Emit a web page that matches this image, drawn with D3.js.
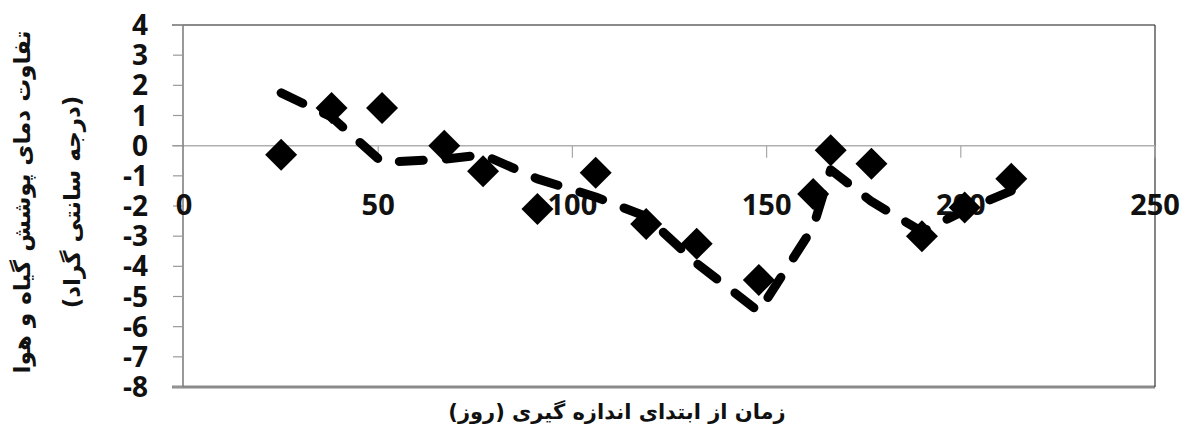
<!DOCTYPE html>
<html lang="fa">
<head>
  <meta charset="UTF-8">
  <title>Canopy-air temperature difference</title>
  <script src="https://d3js.org/d3.v7.min.js"></script>
  <style>
    body { margin: 0; background: #fff; }
    .tick-label { font-family: "Open Sans", "Liberation Sans", sans-serif; font-weight: 700; fill: #111; }
    .title { font-family: "DejaVu Sans", sans-serif; font-weight: 700; fill: #111; }
  </style>
</head>
<body>
  <svg id="chart" width="1187" height="434"></svg>
  <script>
    // days since start of measurement
    const days = [25, 38, 51, 67, 77, 91, 106, 119, 132, 148, 162, 166.5, 177, 190, 201, 213];
    // measured canopy-air temperature difference
    const measured = [-0.3, 1.25, 1.25, 0, -0.85, -2.1, -0.9, -2.6, -3.25, -4.45, -1.6, -0.15, -0.6, -3.0, -2.05, -1.1];
    // dashed series
    const modeled = [1.75, 0.95, -0.55, -0.45, -0.3, -1.1, -1.7, -2.35, -3.9, -5.5, -2.7, -0.8, -1.85, -2.85, -2.15, -1.5];

    const xTicks = [0, 50, 100, 150, 200, 250];
    const yTicks = [4, 3, 2, 1, 0, -1, -2, -3, -4, -5, -6, -7, -8];

    const yTitle1 = "تفاوت دمای پوشش گیاه و هوا";
    const yTitle2 = "(درجه سانتی گراد)";
    const xTitle = "زمان از ابتدای اندازه گیری (روز)";

    const svg = d3.select("#chart");

    const x = d3.scaleLinear().domain([0, 250]).range([184, 1155]);
    const y = d3.scaleLinear().domain([-8, 4]).range([387, 25]);
    const yMid = (y(4) + y(-8)) / 2 - 4;

    // frame: top line, bottom line, right border
    svg.append("line")
      .attr("x1", 172).attr("x2", x(250))
      .attr("y1", y(4)).attr("y2", y(4))
      .attr("stroke", "#8a8a8a").attr("stroke-width", 2);
    svg.append("line")
      .attr("x1", 172).attr("x2", x(250))
      .attr("y1", y(-8)).attr("y2", y(-8))
      .attr("stroke", "#8a8a8a").attr("stroke-width", 3);
    svg.append("line")
      .attr("x1", x(250)).attr("x2", x(250))
      .attr("y1", y(4)).attr("y2", y(-8))
      .attr("stroke", "#333").attr("stroke-width", 1.2);

    // zero line with x ticks
    svg.append("line")
      .attr("x1", 172).attr("x2", x(250))
      .attr("y1", y(0)).attr("y2", y(0))
      .attr("stroke", "#b0b0b0").attr("stroke-width", 1.5);

    svg.append("g")
      .selectAll("line")
      .data(xTicks.slice(1))
      .join("line")
      .attr("x1", d => x(d)).attr("x2", d => x(d))
      .attr("y1", y(0)).attr("y2", y(0) + 12)
      .attr("stroke", "#a8a8a8").attr("stroke-width", 1.2);

    // y axis
    svg.append("line")
      .attr("x1", 183).attr("x2", 183)
      .attr("y1", y(4)).attr("y2", y(-8))
      .attr("stroke", "#777").attr("stroke-width", 1.5);

    svg.append("g")
      .selectAll("line")
      .data(yTicks)
      .join("line")
      .attr("x1", 173).attr("x2", 183)
      .attr("y1", d => y(d)).attr("y2", d => y(d))
      .attr("stroke", "#999").attr("stroke-width", 1.2);

    svg.append("g")
      .selectAll("text")
      .data(yTicks)
      .join("text")
      .attr("class", "tick-label")
      .attr("x", 148)
      .attr("y", d => y(d))
      .attr("dy", "0.36em")
      .attr("text-anchor", "end")
      .style("font-size", "28px")
      .text(d => d);

    svg.append("g")
      .selectAll("text")
      .data(xTicks)
      .join("text")
      .attr("class", "tick-label")
      .attr("x", d => x(d))
      .attr("y", 205)
      .attr("dy", "0.36em")
      .attr("text-anchor", "middle")
      .style("font-size", "29px")
      .text(d => d);

    // dashed series
    const line = d3.line()
      .x((d, i) => x(days[i]))
      .y(d => y(d));

    svg.append("path")
      .datum(modeled)
      .attr("d", line)
      .attr("fill", "none")
      .attr("stroke", "#000")
      .attr("stroke-width", 9)
      .attr("stroke-linecap", "round")
      .attr("stroke-linejoin", "round")
      .attr("stroke-dasharray", "24,23");

    // diamonds
    svg.append("g")
      .selectAll("path")
      .data(measured)
      .join("path")
      .attr("d", d3.symbol(d3.symbolSquare, 512))
      .attr("transform", (d, i) => `translate(${x(days[i])},${y(d)}) rotate(45)`)
      .attr("fill", "#000");

    // axis titles
    svg.append("text")
      .attr("class", "title")
      .attr("transform", `translate(22,${yMid}) rotate(-90)`)
      .attr("dy", "0.35em")
      .attr("text-anchor", "middle")
      .attr("direction", "rtl")
      .style("font-size", "23px")
      .text(yTitle1);

    svg.append("text")
      .attr("class", "title")
      .attr("transform", `translate(72,${yMid}) rotate(-90)`)
      .attr("dy", "0.35em")
      .attr("text-anchor", "middle")
      .attr("direction", "rtl")
      .style("font-size", "23px")
      .text(yTitle2);

    svg.append("text")
      .attr("class", "title")
      .attr("x", 617)
      .attr("y", 412)
      .attr("dy", "0.35em")
      .attr("text-anchor", "middle")
      .attr("direction", "rtl")
      .style("font-size", "21px")
      .text(xTitle);
  </script>
</body>
</html>
